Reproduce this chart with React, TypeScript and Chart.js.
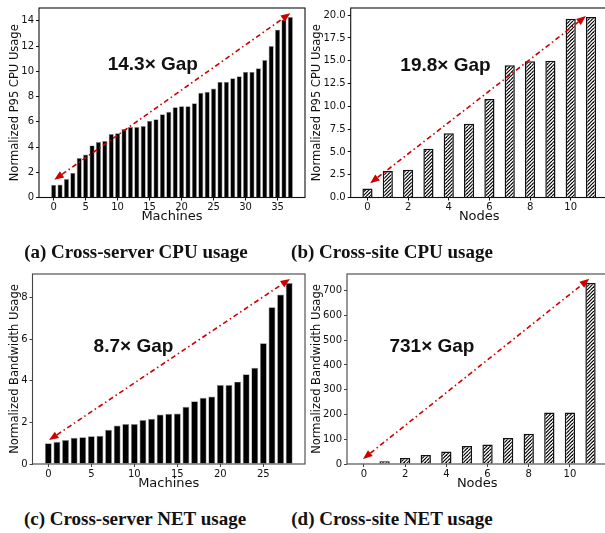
import React, { useEffect, useRef } from "react";
import { Chart, registerables } from "chart.js";

Chart.register(...registerables);

// ---------------- Data ----------------
const cpuServerValues = [
  1.0, 1.03, 1.47, 1.95, 3.13, 3.4, 4.13, 4.4, 4.47, 5.03, 5.1, 5.42, 5.58, 5.58, 5.66, 6.08, 6.2, 6.6, 6.8,
  7.16, 7.24, 7.24, 7.47, 8.29, 8.37, 8.63, 9.16, 9.16, 9.45, 9.6, 9.95, 9.95, 10.24, 10.9, 12.0, 13.3, 14.1, 14.3,
];
const cpuSiteValues = [1.0, 2.9, 3.05, 5.34, 7.04, 8.09, 10.82, 14.5, 14.95, 15.0, 19.6, 19.8];
const netServerValues = [
  1.0, 1.07, 1.15, 1.26, 1.29, 1.34, 1.36, 1.65, 1.85, 1.92, 1.92, 2.11, 2.17, 2.38, 2.41, 2.43, 2.75, 3.02,
  3.18, 3.24, 3.8, 3.8, 3.96, 4.31, 4.63, 5.81, 7.54, 8.15, 8.7,
];
const netSiteValues = [1, 10.7, 24, 36, 51, 72.5, 79, 105, 122, 208, 208, 731];

const cpuServerXTicks = [0, 5, 10, 15, 20, 25, 30, 35];
const cpuServerYTicks = [0, 2, 4, 6, 8, 10, 12, 14];
const cpuSiteXTicks = [0, 2, 4, 6, 8, 10];
const cpuSiteYTicks = [0, 2.5, 5, 7.5, 10, 12.5, 15, 17.5, 20];
const netServerXTicks = [0, 5, 10, 15, 20, 25];
const netServerYTicks = [0, 2, 4, 6, 8];
const netSiteXTicks = [0, 2, 4, 6, 8, 10];
const netSiteYTicks = [0, 100, 200, 300, 400, 500, 600, 700];

const gapLabels = ["14.3× Gap", "19.8× Gap", "8.7× Gap", "731× Gap"];
// annotation arrows in data coordinates: [x1, y1, x2, y2]
const cpuServerArrow = [0.1, 1.4, 37.0, 14.6];
const cpuSiteArrow = [0.13, 1.56, 10.75, 19.9];
const netServerArrow = [0.08, 1.15, 28.1, 8.9];
const netSiteArrow = [-0.05, 20, 10.94, 748];
// gap label centres in data coordinates
const cpuServerLabelAt = [15.5, 10.5];
const cpuSiteLabelAt = [3.84, 14.45];
const netServerLabelAt = [9.9, 5.65];
const netSiteLabelAt = [3.3, 473];

const captions = [
  "(a) Cross-server CPU usage",
  "(b) Cross-site CPU usage",
  "(c) Cross-server NET usage",
  "(d) Cross-site NET usage",
];

// ---------------- Helpers ----------------
type PanelSpec = {
  left: number;
  top: number;
  width: number;
  height: number;
  values: number[];
  barWidth: number;
  hatched: boolean;
  xTicks: number[];
  yTicks: number[];
  yDecimals: number;
  xTitle: string;
  yTitle: string;
  yAxisWidth: number;
  padTop: number;
  padRight: number;
  xAxisHeight: number;
  yTitlePad: number;
  xTitlePad: number;
  arrow: number[];
  gapLabel: string;
  labelAt: number[];
  frameColor: string;
};

function makeHatch(): CanvasPattern | string {
  const s = 7;
  const c = document.createElement("canvas");
  c.width = s;
  c.height = s;
  const g = c.getContext("2d");
  if (!g) return "#fff";
  g.fillStyle = "#fff";
  g.fillRect(0, 0, s, s);
  g.strokeStyle = "#000";
  g.lineWidth = 1.15;
  const k = 2;
  const p = s / k;
  for (let i = -k; i <= k; i++) {
    g.beginPath();
    g.moveTo(i * p, s);
    g.lineTo(i * p + s, 0);
    g.stroke();
  }
  return g.createPattern(c, "repeat") || "#fff";
}

function makeOverlay(spec: PanelSpec) {
  return {
    id: "overlay",
    afterDatasetsDraw(chart: any) {
      const { ctx, chartArea } = chart;
      const { left, top, right, bottom } = chartArea;
      const xs = chart.scales.x;
      const ys = chart.scales.y;
      ctx.save();
      // frame
      ctx.strokeStyle = spec.frameColor;
      ctx.lineWidth = 1.1;
      ctx.strokeRect(left, top, right - left, bottom - top);

      // arrow
      const x1 = xs.getPixelForValue(spec.arrow[0]);
      const y1 = ys.getPixelForValue(spec.arrow[1]);
      const x2 = xs.getPixelForValue(spec.arrow[2]);
      const y2 = ys.getPixelForValue(spec.arrow[3]);
      const ang = Math.atan2(y2 - y1, x2 - x1);
      const c = Math.cos(ang);
      const s = Math.sin(ang);
      const head = 9.5;
      const hw = 3.8;
      const red = "#cc0000";
      ctx.strokeStyle = red;
      ctx.fillStyle = red;
      ctx.lineWidth = 1.6;
      ctx.setLineDash([5, 3, 1.5, 3]);
      ctx.beginPath();
      ctx.moveTo(x1 + c * head, y1 + s * head);
      ctx.lineTo(x2 - c * head, y2 - s * head);
      ctx.stroke();
      ctx.setLineDash([]);
      const drawHead = (tx: number, ty: number, dx: number, dy: number) => {
        const bx = tx - dx * head;
        const by = ty - dy * head;
        ctx.beginPath();
        ctx.moveTo(tx, ty);
        ctx.lineTo(bx - dy * hw, by + dx * hw);
        ctx.lineTo(bx + dy * hw, by - dx * hw);
        ctx.closePath();
        ctx.fill();
      };
      drawHead(x2, y2, c, s);
      drawHead(x1, y1, -c, -s);

      // gap label
      ctx.fillStyle = "#111";
      ctx.font = 'bold 19px "Liberation Sans", Arial, sans-serif';
      ctx.textAlign = "center";
      ctx.textBaseline = "middle";
      ctx.fillText(spec.gapLabel, xs.getPixelForValue(spec.labelAt[0]), ys.getPixelForValue(spec.labelAt[1]));
      ctx.restore();
    },
  };
}

function Panel({ spec }: { spec: PanelSpec }) {
  const ref = useRef<HTMLCanvasElement>(null);
  useEffect(() => {
    const canvas = ref.current;
    if (!canvas) return;
    const n = spec.values.length;
    const margin = 0.05 * (n - 1 + spec.barWidth);
    const xMin = -spec.barWidth / 2 - margin;
    const xMax = n - 1 + spec.barWidth / 2 + margin;
    const yMax = 1.05 * Math.max(...spec.values);
    const fill = spec.hatched ? makeHatch() : "#000";
    const tickFont = { family: "'DejaVu Sans', sans-serif", size: 10 };
    const tickColor = "#111";
    const chart = new Chart(canvas, {
      type: "bar",
      data: {
        datasets: [
          {
            data: spec.values.map((v, i) => ({ x: i, y: v })),
            backgroundColor: fill as any,
            borderColor: spec.hatched ? "#111" : "#8f8f8f",
            borderWidth: spec.hatched ? 1.5 : 0.7,
            barPercentage: spec.barWidth,
            categoryPercentage: 1,
          },
        ],
      },
      options: {
        animation: false,
        responsive: false,
        devicePixelRatio: 1,
        events: [],
        layout: { padding: { left: 0, top: spec.padTop, right: spec.padRight, bottom: 0 } },
        plugins: { legend: { display: false }, tooltip: { enabled: false } },
        scales: {
          x: {
            type: "linear",
            min: xMin,
            max: xMax,
            offset: false,
            bounds: "data",
            afterBuildTicks: (scale: any) => {
              scale.ticks = spec.xTicks.map((v) => ({ value: v }));
            },
            afterFit: (scale: any) => {
              scale.height = spec.xAxisHeight;
            },
            ticks: {
              font: tickFont,
              color: tickColor,
              padding: 1,
              maxRotation: 0,
              autoSkip: false,
              callback: (v: any) => String(v),
            },
            grid: {
              display: true,
              drawOnChartArea: false,
              drawTicks: true,
              tickLength: 3,
              color: spec.frameColor,
              offset: false,
            },
            border: { display: false },
            title: {
              display: true,
              text: spec.xTitle,
              font: { family: "'DejaVu Sans', sans-serif", size: 13 },
              color: "#111",
              padding: { top: 0, bottom: spec.xTitlePad },
            },
          },
          y: {
            type: "linear",
            min: 0,
            max: yMax,
            bounds: "data",
            afterBuildTicks: (scale: any) => {
              scale.ticks = spec.yTicks.map((v) => ({ value: v }));
            },
            afterFit: (scale: any) => {
              scale.width = spec.yAxisWidth;
            },
            ticks: {
              font: tickFont,
              color: tickColor,
              padding: 2,
              autoSkip: false,
              callback: (v: any) => Number(v).toFixed(spec.yDecimals),
            },
            grid: {
              display: true,
              drawOnChartArea: false,
              drawTicks: true,
              tickLength: 3,
              color: spec.frameColor,
            },
            border: { display: false },
            title: {
              display: true,
              text: spec.yTitle,
              font: { family: "'DejaVu Sans', sans-serif", size: 11.5 },
              color: "#111",
              padding: { top: spec.yTitlePad, bottom: 0 },
            },
          },
        },
      } as any,
      plugins: [makeOverlay(spec)],
    });
    return () => chart.destroy();
  }, [spec]);
  return (
    <canvas
      ref={ref}
      width={spec.width}
      height={spec.height}
      style={{ position: "absolute", left: spec.left, top: spec.top, width: spec.width, height: spec.height }}
    />
  );
}

const panels: PanelSpec[] = [
  {
    left: 0, top: 0, width: 310, height: 226,
    values: cpuServerValues, barWidth: 0.8, hatched: false,
    xTicks: cpuServerXTicks, yTicks: cpuServerYTicks, yDecimals: 0,
    xTitle: "Machines", yTitle: "Normalized P95 CPU Usage",
    yAxisWidth: 39, padTop: 8, padRight: 5, xAxisHeight: 28.5, yTitlePad: 8.5, xTitlePad: 1.2,
    arrow: cpuServerArrow, gapLabel: gapLabels[0], labelAt: cpuServerLabelAt, frameColor: "#111",
  },
  {
    left: 300, top: 0, width: 310, height: 226,
    values: cpuSiteValues, barWidth: 0.5, hatched: true,
    xTicks: cpuSiteXTicks, yTicks: cpuSiteYTicks, yDecimals: 1,
    xTitle: "Nodes", yTitle: "Normalized P95 CPU Usage",
    yAxisWidth: 50.7, padTop: 7.5, padRight: 2.2, xAxisHeight: 28.5, yTitlePad: 10.1, xTitlePad: 1.2,
    arrow: cpuSiteArrow, gapLabel: gapLabels[1], labelAt: cpuSiteLabelAt, frameColor: "#111",
  },
  {
    left: 0, top: 262, width: 310, height: 230,
    values: netServerValues, barWidth: 0.8, hatched: false,
    xTicks: netServerXTicks, yTicks: netServerYTicks, yDecimals: 0,
    xTitle: "Machines", yTitle: "Normalized Bandwidth Usage",
    yAxisWidth: 32.5, padTop: 12, padRight: 5, xAxisHeight: 28, yTitlePad: 8.1, xTitlePad: 0.2,
    arrow: netServerArrow, gapLabel: gapLabels[2], labelAt: netServerLabelAt, frameColor: "#444",
  },
  {
    left: 300, top: 262, width: 310, height: 230,
    values: netSiteValues, barWidth: 0.5, hatched: true,
    xTicks: netSiteXTicks, yTicks: netSiteYTicks, yDecimals: 0,
    xTitle: "Nodes", yTitle: "Normalized Bandwidth Usage",
    yAxisWidth: 47, padTop: 12, padRight: 2.5, xAxisHeight: 28, yTitlePad: 9.8, xTitlePad: 0.2,
    arrow: netSiteArrow, gapLabel: gapLabels[3], labelAt: netSiteLabelAt, frameColor: "#444",
  },
];

const captionPos = [
  { cx: 136, top: 242 },
  { cx: 392, top: 242 },
  { cx: 135, top: 509 },
  { cx: 392, top: 509 },
];

export default function App() {
  return (
    <div
      style={{
        position: "absolute",
        left: 0,
        top: 0,
        width: 605,
        height: 533,
        overflow: "hidden",
        background: "#fff",
      }}
    >
      {panels.map((p, i) => (
        <Panel key={i} spec={p} />
      ))}
      {captions.map((t, i) => (
        <div
          key={"c" + i}
          style={{
            position: "absolute",
            left: captionPos[i].cx - 150,
            width: 300,
            top: captionPos[i].top,
            textAlign: "center",
            fontFamily: "'Liberation Serif', 'Times New Roman', serif",
            fontWeight: "bold",
            fontSize: 19,
            lineHeight: "19px",
            color: "#111",
            whiteSpace: "nowrap",
          }}
        >
          {t}
        </div>
      ))}
    </div>
  );
}
